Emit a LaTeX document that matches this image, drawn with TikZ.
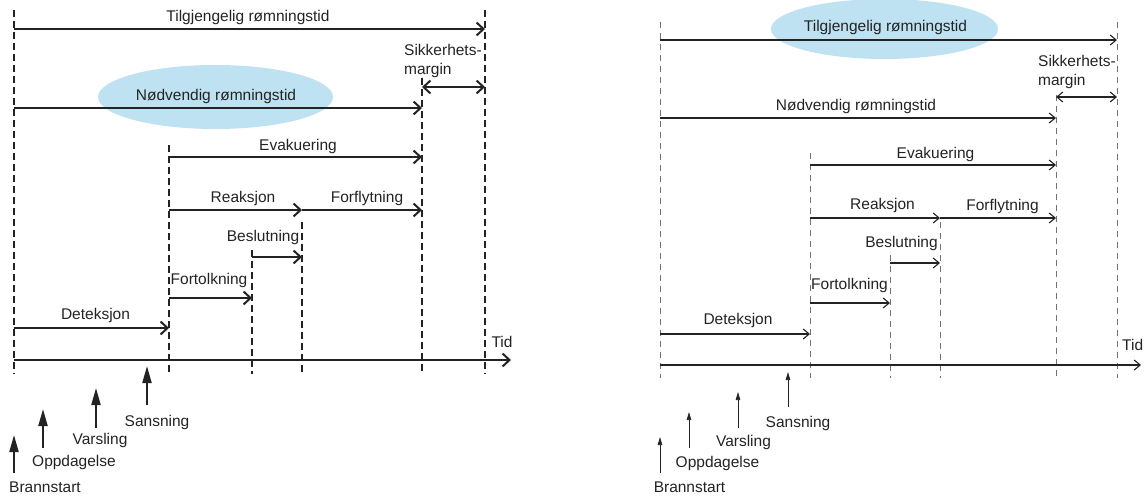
\documentclass[tikz,border=0pt]{standalone}
\usepackage{fontspec}
\setmainfont{Liberation Sans}
\usetikzlibrary{arrows.meta}

\definecolor{ellblue}{RGB}{190,226,242}
\definecolor{markgray}{RGB}{115,115,115}
\definecolor{inkgray}{RGB}{35,35,35}

\tikzset{
  lbl/.style={font=\fontsize{15.5}{19.5}\selectfont, text=inkgray, inner sep=0pt},
  boldspan/.style={line width=2pt, inkgray, -{Straight Barb[length=7pt,width=13pt]}},
  boldboth/.style={line width=2pt, inkgray, {Straight Barb[length=7pt,width=13pt]}-{Straight Barb[length=7pt,width=13pt]}},
  boldmark/.style={line width=1.2pt, inkgray, dash pattern=on 7pt off 4pt},
  boldup/.style={line width=2pt, inkgray, -{Triangle[length=17pt,width=9pt]}},
  thinspan/.style={line width=1.1pt, inkgray, -{Straight Barb[length=6pt,width=10pt]}},
  thinboth/.style={line width=1.1pt, inkgray, {Straight Barb[length=6pt,width=10pt]}-{Straight Barb[length=6pt,width=10pt]}},
  thinmark/.style={line width=0.7pt, markgray, dash pattern=on 6pt off 5pt},
  thinup/.style={line width=0.7pt, inkgray, -{Triangle[length=8pt,width=4.5pt]}},
}

\begin{document}
\begin{tikzpicture}[x=1pt, y=-1pt]

\useasboundingbox (0,0) rectangle (1144,497);

%%%%%%%%%% left panel (bold) %%%%%%%%%%

\fill[ellblue] (215.5,97) ellipse [x radius=117.5pt, y radius=32pt];

% time marks on the axis
\coordinate (t0) at (14,360);
\coordinate (t1) at (169,360);
\coordinate (t2) at (252,360);
\coordinate (t3) at (302,360);
\coordinate (t4) at (422,360);
\coordinate (t5) at (485,360);
\coordinate (tend) at (511,360);

% rows
\coordinate (rTilg) at (0,29);
\coordinate (rMarg) at (0,87);
\coordinate (rNodv) at (0,108);
\coordinate (rEvak) at (0,157);
\coordinate (rReak) at (0,210);
\coordinate (rBesl) at (0,257);
\coordinate (rFort) at (0,298);
\coordinate (rDet) at (0,328);
\coordinate (rBot) at (0,374);

% tops of the dashed marks
\coordinate (d0) at (14,10);
\coordinate (d1) at (169,145);
\coordinate (d2) at (252,250);
\coordinate (d3) at (302,222);
\coordinate (d4) at (422,78);
\coordinate (d5) at (485,10);

\begin{scope}
\draw[boldmark] (d0) -- (d0 |- rBot);
\draw[boldmark] (d1) -- (d1 |- rBot);
\draw[boldmark] (d2) -- (d2 |- rBot);
\draw[boldmark] (d3) -- (d3 |- rBot);
\draw[boldmark] (d4) -- (d4 |- rBot);
\draw[boldmark] (d5) -- (d5 |- rBot);
\end{scope}

\draw[boldspan] (t0 |- rTilg) -- (t5 |- rTilg); %t0-t5
\draw[boldboth] (t4 |- rMarg) -- (t5 |- rMarg); %t4-t5
\draw[boldspan] (t0 |- rNodv) -- (t4 |- rNodv); %t0-t4
\draw[boldspan] (t1 |- rEvak) -- (t4 |- rEvak); %t1-t4
\draw[boldspan] (t1 |- rReak) -- (t3 |- rReak); %t1-t3
\draw[boldspan] (t3 |- rReak) -- (t4 |- rReak); %t3-t4
\draw[boldspan] (t2 |- rBesl) -- (t3 |- rBesl); %t2-t3
\draw[boldspan] (t1 |- rFort) -- (t2 |- rFort); %t1-t2
\draw[boldspan] (t0 |- rDet) -- (t1 |- rDet); %t0-t1
\draw[boldspan] (t0) -- (tend); %axis

\node[lbl] (tilg) at (248,17) {Tilgjengelig rømningstid};
\node[lbl, anchor=west, align=left] (marg) at (404,61) {Sikkerhets-\\margin};
\node[lbl] (nodv) at (216,96) {Nødvendig rømningstid};
\node[lbl] (evak) at (298,146) {Evakuering};
\node[lbl] (reak) at (243,198) {Reaksjon};
\node[lbl] (forf) at (367,198) {Forflytning};
\node[lbl] (besl) at (263,237) {Beslutning};
\node[lbl] (fort) at (209,280) {Fortolkning};
\node[lbl] (det) at (95.5,315) {Deteksjon};
\node[lbl] (tid) at (502,342) {Tid};

% events below the axis
\coordinate (brann0) at (14,473);  \coordinate (brann1) at (14,435);
\coordinate (oppd0) at (43,448);   \coordinate (oppd1) at (43,409);
\coordinate (vars0) at (96,428);   \coordinate (vars1) at (96,388);
\coordinate (sans0) at (147,405);  \coordinate (sans1) at (147,366);

\draw[boldup] (brann0) -- (brann1);
\draw[boldup] (oppd0) -- (oppd1);
\draw[boldup] (vars0) -- (vars1);
\draw[boldup] (sans0) -- (sans1);

\node[lbl] (brann) at (45,487) {Brannstart};
\node[lbl] (oppd) at (74,462) {Oppdagelse};
\node[lbl] (vars) at (100,440) {Varsling};
\node[lbl] (sans) at (157,422) {Sansning};

%%%%%%%%%% right panel (thin) %%%%%%%%%%

\fill[ellblue] (884.5,29) ellipse [x radius=113.5pt, y radius=30pt];

\coordinate (u0) at (660,365);
\coordinate (u1) at (810,365);
\coordinate (u2) at (890,365);
\coordinate (u3) at (940,365);
\coordinate (u4) at (1056,365);
\coordinate (u5) at (1117,365);
\coordinate (uend) at (1141,365);

\coordinate (sTilg) at (0,40);
\coordinate (sMarg) at (0,97);
\coordinate (sNodv) at (0,118);
\coordinate (sEvak) at (0,165);
\coordinate (sReak) at (0,218);
\coordinate (sBesl) at (0,263);
\coordinate (sFort) at (0,303);
\coordinate (sDet) at (0,334);
\coordinate (sBot) at (0,378);

\coordinate (e0) at (660,22);
\coordinate (e1) at (810,153);
\coordinate (e2) at (890,255);
\coordinate (e3) at (940,222);
\coordinate (e4) at (1056,95);
\coordinate (e5) at (1117,22);

\begin{scope}
\draw[thinmark] (e0) -- (e0 |- sBot);
\draw[thinmark] (e1) -- (e1 |- sBot);
\draw[thinmark] (e2) -- (e2 |- sBot);
\draw[thinmark] (e3) -- (e3 |- sBot);
\draw[thinmark] (e4) -- (e4 |- sBot);
\draw[thinmark] (e5) -- (e5 |- sBot);
\end{scope}

\draw[thinspan] (u0 |- sTilg) -- (u5 |- sTilg); %u0-u5
\draw[thinboth] (u4 |- sMarg) -- (u5 |- sMarg); %u4-u5
\draw[thinspan] (u0 |- sNodv) -- (u4 |- sNodv); %u0-u4
\draw[thinspan] (u1 |- sEvak) -- (u4 |- sEvak); %u1-u4
\draw[thinspan] (u1 |- sReak) -- (u3 |- sReak); %u1-u3
\draw[thinspan] (u3 |- sReak) -- (u4 |- sReak); %u3-u4
\draw[thinspan] (u2 |- sBesl) -- (u3 |- sBesl); %u2-u3
\draw[thinspan] (u1 |- sFort) -- (u2 |- sFort); %u1-u2
\draw[thinspan] (u0 |- sDet) -- (u1 |- sDet); %u0-u1
\draw[thinspan] (u0) -- (uend); %axis

\node[lbl] (tilgR) at (885.5,27) {Tilgjengelig rømningstid};
\node[lbl, anchor=west, align=left] (margR) at (1038,72) {Sikkerhets-\\margin};
\node[lbl] (nodvR) at (856,106) {Nødvendig rømningstid};
\node[lbl] (evakR) at (935.5,154) {Evakuering};
\node[lbl] (reakR) at (882.5,205) {Reaksjon};
\node[lbl] (forfR) at (1002.5,206) {Forflytning};
\node[lbl] (beslR) at (901.5,243) {Beslutning};
\node[lbl] (fortR) at (849.5,285) {Fortolkning};
\node[lbl] (detR) at (738,320) {Deteksjon};
\node[lbl, anchor=west] (tidR) at (1122,345) {Tid};

\coordinate (brannR0) at (660,473);  \coordinate (brannR1) at (660,437);
\coordinate (oppdR0) at (689,448);   \coordinate (oppdR1) at (689,412);
\coordinate (varsR0) at (738,428);   \coordinate (varsR1) at (738,392);
\coordinate (sansR0) at (788,407);   \coordinate (sansR1) at (788,372);

\draw[thinup] (brannR0) -- (brannR1);
\draw[thinup] (oppdR0) -- (oppdR1);
\draw[thinup] (varsR0) -- (varsR1);
\draw[thinup] (sansR0) -- (sansR1);

\node[lbl] (brannR) at (689.5,487) {Brannstart};
\node[lbl] (oppdR) at (717.5,463) {Oppdagelse};
\node[lbl] (varsR) at (743.5,442) {Varsling};
\node[lbl] (sansR) at (798,423) {Sansning};

\end{tikzpicture}
\end{document}
